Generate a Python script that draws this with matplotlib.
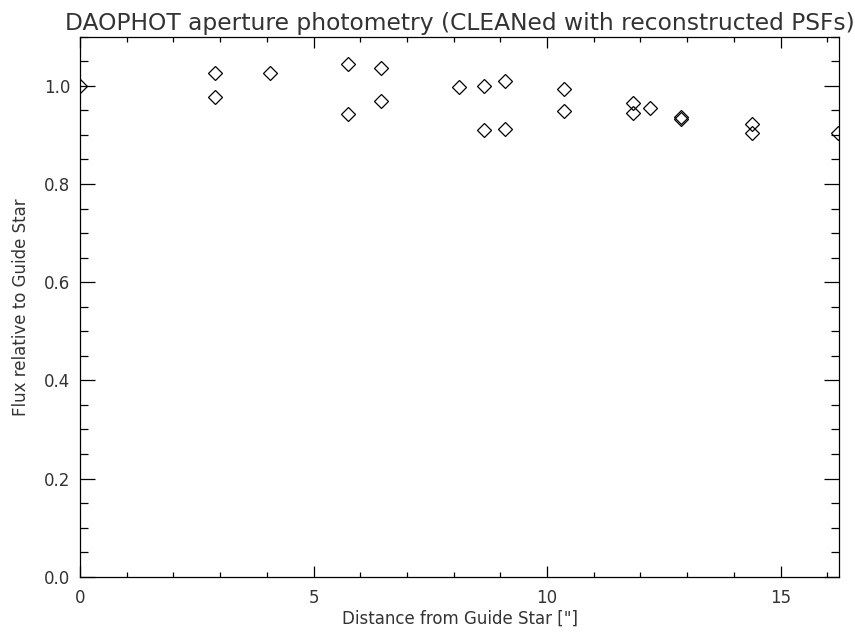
import matplotlib
matplotlib.use('Agg')
import matplotlib.pyplot as plt
from matplotlib.ticker import MultipleLocator

# distancia a la estrella guia (arcsec) y flujo relativo
distance = [0.0, 2.89, 2.89, 4.07, 5.74, 5.74, 6.44, 6.44,
            8.12, 8.65, 8.65, 9.09, 9.09, 10.36, 10.36,
            11.85, 11.85, 12.20, 12.86, 12.87, 14.38, 14.38, 16.23]
flux = [1.000, 1.027, 0.978, 1.027, 1.045, 0.942, 1.036, 0.969,
        0.997, 1.000, 0.909, 1.010, 0.913, 0.993, 0.948,
        0.964, 0.944, 0.955, 0.936, 0.932, 0.922, 0.904, 0.904]

plt.rcParams['font.family'] = 'DejaVu Sans'
txt = '#333333'

fig = plt.figure(figsize=(8.55, 6.36), dpi=100)
ax = fig.add_axes([80/855, 1 - 576.7/636, (839 - 80)/855, (576.7 - 36.7)/636])

ax.plot(distance, flux, linestyle='none', marker='D', markersize=6.8,
        markerfacecolor='none', markeredgecolor='black', markeredgewidth=0.9)

ax.set_xlim(0, 16.25)
ax.set_ylim(0, 1.1)
ax.xaxis.set_major_locator(MultipleLocator(5))
ax.xaxis.set_minor_locator(MultipleLocator(1))
ax.yaxis.set_major_locator(MultipleLocator(0.2))
ax.yaxis.set_minor_locator(MultipleLocator(0.05))
ax.yaxis.set_major_formatter(plt.FormatStrFormatter('%.1f'))

for s in ax.spines.values():
    s.set_linewidth(0.9)
ax.tick_params(axis='both', which='both', direction='in', top=True, right=True,
               width=0.9, labelsize=12, labelcolor=txt)
ax.tick_params(axis='x', which='major', length=7.8, pad=9)
ax.tick_params(axis='x', which='minor', length=3.9)
ax.tick_params(axis='y', which='major', length=10.9, pad=7)
ax.tick_params(axis='y', which='minor', length=5.5)

ax.set_xlabel('Distance from Guide Star ["]', fontsize=12, labelpad=2, color=txt)
ax.set_ylabel('Flux relative to Guide Star', fontsize=12, labelpad=10, color=txt)
ax.set_title('DAOPHOT aperture photometry (CLEANed with reconstructed PSFs)',
             fontsize=16.8, pad=5, color=txt)

fig.savefig('out.png', dpi=100)
